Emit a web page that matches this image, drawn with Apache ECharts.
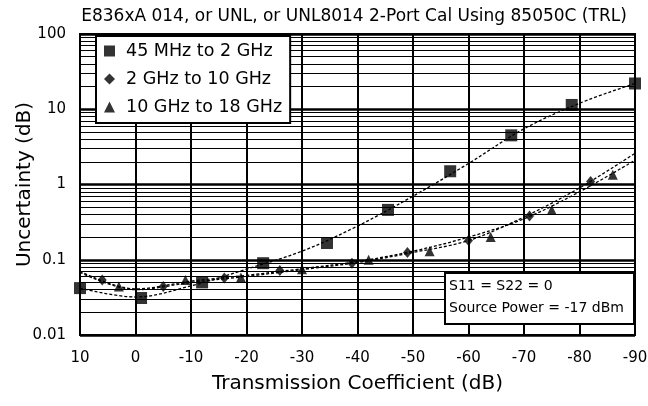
<!DOCTYPE html>
<html>
<head>
<meta charset="utf-8">
<script src="https://cdn.jsdelivr.net/npm/echarts@6/dist/echarts.min.js"></script>
<style>
  html, body { margin: 0; padding: 0; background: #fff; }
  #chart { width: 648px; height: 406px; }
</style>
</head>
<body>
<div id="chart"></div>
<script>
// Axis ticks
const xTicks = [10, 0, -10, -20, -30, -40, -50, -60, -70, -80, -90];
const yDecades = [0.01, 0.1, 1, 10, 100];
const yMinor = [
  0.02, 0.03, 0.04, 0.05, 0.06, 0.07, 0.08, 0.09,
  0.2, 0.3, 0.4, 0.5, 0.6, 0.7, 0.8, 0.9,
  2, 3, 4, 5, 6, 7, 8, 9,
  20, 30, 40, 50, 60, 70, 80, 90
];

// Band names
const bandNames = ['45 MHz to 2 GHz', '2 GHz to 10 GHz', '10 GHz to 18 GHz'];

// Measured points per band (transmission coefficient dB, uncertainty dB)
const sqX = [10, -1, -12, -23, -34.5, -45.5, -56.7, -67.7, -78.6, -90];
const sqY = [0.042, 0.031, 0.05, 0.09, 0.167, 0.46, 1.5, 4.5, 11.4, 22];
const diX = [6, -5, -16, -26, -39, -49, -60, -71, -82];
const diY = [0.054, 0.044, 0.057, 0.072, 0.09, 0.125, 0.18, 0.38, 1.1];
const trX = [3, -9, -19, -30, -42, -53, -64, -75, -86];
const trY = [0.044, 0.054, 0.058, 0.075, 0.1, 0.13, 0.2, 0.46, 1.35];

// Fitted trend curves, sampled every 10 dB
const fitX = [10, 0, -10, -20, -30, -40, -50, -60, -70, -80, -90];
const sqFit = [0.042, 0.032, 0.045, 0.075, 0.13, 0.28, 0.7, 1.9, 5.5, 12, 22];
const diFit = [0.068, 0.04, 0.05, 0.06, 0.074, 0.092, 0.125, 0.18, 0.37, 0.9, 2.6];
const trFit = [0.07, 0.041, 0.052, 0.062, 0.076, 0.095, 0.13, 0.2, 0.35, 0.8, 2.1];

const titleText = 'E836xA 014, or UNL, or UNL8014 2-Port Cal Using 85050C (TRL)';
const noteLines = ['S11 = S22 = 0', 'Source Power = -17 dBm'];

const FONT = "'DejaVu Sans', Verdana, sans-serif";
const zip = (xs, ys) => xs.map((x, i) => [x, ys[i]]);

const fitStyle = { color: '#000', width: 1.3, type: [3, 2] };

const chart = echarts.init(document.getElementById('chart'), null, { renderer: 'canvas' });

chart.setOption({
  animation: false,
  backgroundColor: '#fff',
  title: {
    text: titleText,
    left: 349,
    textAlign: 'center',
    top: 3,
    textStyle: { fontFamily: FONT, fontSize: 17, fontWeight: 'normal', color: '#000' }
  },
  grid: {
    left: 80, right: 13, top: 34, bottom: 71,
    containLabel: false,
    outerBoundsMode: 'none',
    show: true, borderColor: '#000', borderWidth: 2, backgroundColor: '#fff'
  },
  legend: {
    data: bandNames,
    orient: 'vertical',
    left: 96, top: 36,
    backgroundColor: '#fff',
    borderColor: '#000', borderWidth: 2, borderRadius: 0,
    padding: [6, 8, 7, 8],
    itemGap: 10,
    itemWidth: 11, itemHeight: 11,
    textStyle: { fontFamily: FONT, fontSize: 17.5, color: '#000', padding: [0, 0, 0, 6] },
    z: 10
  },
  xAxis: {
    type: 'value',
    min: -90, max: 10, interval: 10,
    inverse: true,
    name: 'Transmission Coefficient (dB)',
    nameLocation: 'middle',
    nameGap: 39,
    nameMoveOverlap: false,
    nameTextStyle: { fontFamily: FONT, fontSize: 20, color: '#000' },
    axisLine: { show: true, lineStyle: { color: '#000', width: 2 } },
    axisTick: { show: false },
    axisLabel: { fontFamily: FONT, fontSize: 15, color: '#000', margin: 16 },
    splitLine: { show: true, lineStyle: { color: '#000', width: 2, type: 'solid' } }
  },
  yAxis: {
    type: 'log',
    logBase: 10,
    min: yDecades[0], max: yDecades[yDecades.length - 1],
    name: 'Uncertainty (dB)',
    nameLocation: 'middle',
    nameGap: 45,
    nameMoveOverlap: false,
    nameTextStyle: { fontFamily: FONT, fontSize: 20, color: '#000' },
    axisLine: { show: true, lineStyle: { color: '#000', width: 2 } },
    axisTick: { show: false },
    axisLabel: {
      fontFamily: FONT, fontSize: 15, color: '#000', margin: 14,
      formatter: v => String(+v.toPrecision(3))
    },
    splitLine: { show: true, lineStyle: { color: '#000', width: 2.5 } }
  },
  graphic: [{
    type: 'group',
    left: 444, top: 272,
    z: 100,
    children: [
      { type: 'rect', z: 100, shape: { x: 0, y: 0, width: 189, height: 51 },
        style: { fill: '#fff', stroke: '#000', lineWidth: 2 } },
      { type: 'text', z: 101, x: 4, y: 6,
        style: { text: noteLines[0], font: '14px ' + FONT, fill: '#000' } },
      { type: 'text', z: 101, x: 4, y: 28,
        style: { text: noteLines[1], font: '14px ' + FONT, fill: '#000' } }
    ]
  }],
  series: [
    {
      // log minor grid lines
      type: 'line', data: [], silent: true, z: 1,
      markLine: {
        silent: true, symbol: 'none', animation: false,
        label: { show: false },
        lineStyle: { color: '#000', width: 1.2, type: 'solid' },
        data: yMinor.map(v => ({ yAxis: v }))
      }
    },
    {
      type: 'line', data: zip(fitX, sqFit), smooth: 0.35, symbol: 'none',
      lineStyle: fitStyle, silent: true, z: 3
    },
    {
      type: 'line', data: zip(fitX, diFit), smooth: 0.35, symbol: 'none',
      lineStyle: fitStyle, silent: true, z: 3
    },
    {
      type: 'line', data: zip(fitX, trFit), smooth: 0.35, symbol: 'none',
      lineStyle: fitStyle, silent: true, z: 3
    },
    {
      name: bandNames[0], type: 'scatter', data: zip(sqX, sqY),
      symbol: 'rect', symbolSize: 12, itemStyle: { color: '#000' }, z: 4
    },
    {
      name: bandNames[1], type: 'scatter', data: zip(diX, diY),
      symbol: 'diamond', symbolSize: [9, 11], itemStyle: { color: '#000' }, z: 4
    },
    {
      name: bandNames[2], type: 'scatter', data: zip(trX, trY),
      symbol: 'triangle', symbolSize: 10, itemStyle: { color: '#000' }, z: 4
    }
  ]
});
</script>
</body>
</html>
